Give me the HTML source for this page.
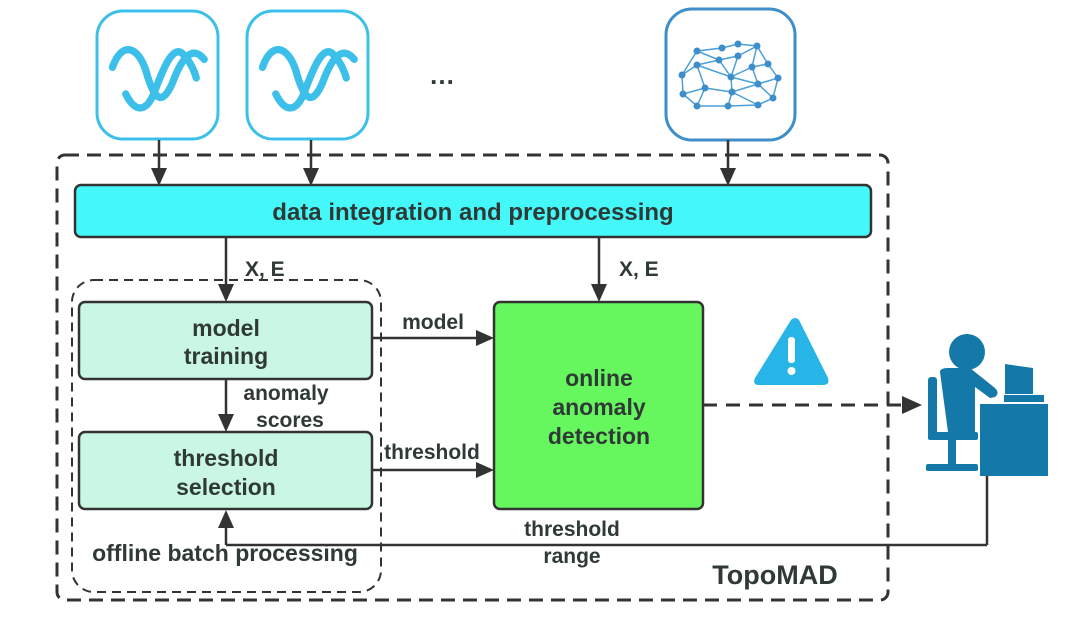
<!DOCTYPE html>
<html><head><meta charset="utf-8"><style>
html,body{margin:0;padding:0;background:#fff;}
svg{display:block;}
text{font-family:"Liberation Sans","DejaVu Sans",sans-serif;font-weight:bold;fill:#2f3a36;}
</style></head><body>
<svg width="1080" height="621" viewBox="0 0 1080 621" xmlns="http://www.w3.org/2000/svg">
<!-- icon boxes -->
<rect x="97" y="11" width="121" height="128" rx="26" fill="#fff" stroke="#3cc0ea" stroke-width="3"/>
<rect x="247" y="11" width="121" height="128" rx="26" fill="#fff" stroke="#3cc0ea" stroke-width="3"/>
<rect x="666" y="9" width="129" height="131" rx="26" fill="#fff" stroke="#3d8ec9" stroke-width="3"/>
<!-- wave icons -->
<g fill="none" stroke="#3cc0ea" stroke-width="5.5" stroke-linecap="round">
<path transform="translate(159,78) scale(1.33) translate(-150,-76)" d="M115 68 C122 48 134 52 140 70 C146 92 152 98 160 80 C168 58 176 52 184 62 M125 88 C132 102 140 102 146 88 C152 72 160 50 168 58 C174 64 177 72 178 76"/>
<path transform="translate(309,78) scale(1.33) translate(-300,-76)" d="M265 68 C272 48 284 52 290 70 C296 92 302 98 310 80 C318 58 326 52 334 62 M275 88 C282 102 290 102 296 88 C302 72 310 50 318 58 C324 64 327 72 328 76"/>
</g>
<text x="442" y="84" font-size="26" text-anchor="middle">…</text>
<!-- network cloud -->
<g stroke="#4aa0d8" stroke-width="1.5" fill="none">
<path d="M682 75 L697 51 L722 48 L738 44 L757 46 L768 64 L778 78 L773 98 L758 105 L728 106 L697 106 L683 94 Z M697 51 L719 60 L738 56 L757 46 M719 60 L697 65 L682 75 M697 65 L705 88 L683 94 M697 65 L731 77 L719 60 M738 56 L731 77 L752 67 L757 46 M752 67 L768 64 M752 67 L758 84 L731 77 L732 92 L705 88 M758 84 L778 78 M758 84 L773 98 M758 84 L732 92 L728 106 M705 88 L697 106 M732 92 L758 105"/>
</g>
<g fill="#3d8ec9">
<circle cx="682" cy="75" r="3.5"/><circle cx="697" cy="51" r="3.5"/><circle cx="722" cy="48" r="3.5"/><circle cx="738" cy="44" r="3.5"/><circle cx="757" cy="46" r="3.5"/><circle cx="768" cy="64" r="3.5"/><circle cx="778" cy="78" r="3.5"/><circle cx="773" cy="98" r="3.5"/><circle cx="758" cy="105" r="3.5"/><circle cx="728" cy="106" r="3.5"/><circle cx="697" cy="106" r="3.5"/><circle cx="683" cy="94" r="3.5"/><circle cx="719" cy="60" r="3.5"/><circle cx="738" cy="56" r="3.5"/><circle cx="697" cy="65" r="3.5"/><circle cx="731" cy="77" r="3.5"/><circle cx="752" cy="67" r="3.5"/><circle cx="758" cy="84" r="3.5"/><circle cx="705" cy="88" r="3.5"/><circle cx="732" cy="92" r="3.5"/>
</g>
<!-- outer dashed -->
<rect x="57" y="155" width="831" height="445" rx="8" fill="none" stroke="#333" stroke-width="3" stroke-dasharray="14 8"/>
<!-- inner dashed -->
<rect x="72" y="280" width="309" height="312" rx="22" fill="none" stroke="#333" stroke-width="2" stroke-dasharray="9 6"/>
<g stroke="#333" stroke-width="2.5">
<line x1="159" y1="140" x2="159" y2="170"/><line x1="311" y1="140" x2="311" y2="170"/><line x1="728" y1="140" x2="728" y2="170"/>
<line x1="226" y1="238" x2="226" y2="286"/><line x1="599" y1="238" x2="599" y2="286"/>
<line x1="226" y1="380" x2="226" y2="416"/>
<line x1="372" y1="338" x2="478" y2="338"/><line x1="372" y1="470" x2="478" y2="470"/>
<line x1="987" y1="476" x2="987" y2="545"/><line x1="987" y1="545" x2="226" y2="545"/><line x1="226" y1="545" x2="226" y2="526"/>
</g>
<line x1="703" y1="405" x2="905" y2="405" stroke="#333" stroke-width="3" stroke-dasharray="14 9"/>
<g fill="#333">
<path d="M151 168 L167 168 L159 186 Z"/><path d="M303 168 L319 168 L311 186 Z"/><path d="M720 168 L736 168 L728 186 Z"/>
<path d="M218 284 L234 284 L226 302 Z"/><path d="M591 284 L607 284 L599 302 Z"/>
<path d="M218 414 L234 414 L226 432 Z"/>
<path d="M476 330 L476 346 L494 338 Z"/><path d="M476 462 L476 478 L494 470 Z"/>
<path d="M218 528 L234 528 L226 510 Z"/>
<path d="M902 396 L902 414 L922 405 Z"/>
</g>
<!-- bar -->
<rect x="75" y="185" width="796" height="52" rx="6" fill="#44f8fa" stroke="#333" stroke-width="2.5"/>
<text x="473" y="220" font-size="24" text-anchor="middle">data integration and preprocessing</text>
<text x="245" y="276" font-size="21">X, E</text>
<text x="619" y="276" font-size="21">X, E</text>
<!-- boxes -->
<rect x="79" y="302" width="293" height="77" rx="6" fill="#c9f7e4" stroke="#333" stroke-width="2.5"/>
<text x="226" y="336" font-size="23" text-anchor="middle">model</text>
<text x="226" y="364" font-size="23" text-anchor="middle">training</text>
<rect x="79" y="432" width="293" height="77" rx="6" fill="#c9f7e4" stroke="#333" stroke-width="2.5"/>
<text x="226" y="466" font-size="23" text-anchor="middle">threshold</text>
<text x="226" y="495" font-size="23" text-anchor="middle">selection</text>
<text x="286" y="400" font-size="21" text-anchor="middle">anomaly</text>
<text x="290" y="427" font-size="21" text-anchor="middle">scores</text>
<text x="433" y="329" font-size="21" text-anchor="middle">model</text>
<text x="432" y="459" font-size="21" text-anchor="middle">threshold</text>
<rect x="494" y="302" width="209" height="207" rx="6" fill="#66f65e" stroke="#333" stroke-width="2.5"/>
<text x="599" y="386" font-size="23" text-anchor="middle">online</text>
<text x="599" y="415" font-size="23" text-anchor="middle">anomaly</text>
<text x="599" y="444" font-size="23" text-anchor="middle">detection</text>
<text x="572" y="536" font-size="21" text-anchor="middle">threshold</text>
<text x="572" y="563" font-size="21" text-anchor="middle">range</text>
<text x="225" y="561" font-size="23" text-anchor="middle">offline batch processing</text>
<text x="775" y="584" font-size="27" text-anchor="middle">TopoMAD</text>
<!-- warning -->
<path d="M791 320 Q795 316 799 320 L828 378 Q830 385 823 385 L759 385 Q752 385 755 378 Z" fill="#27b5e8"/>
<rect x="788" y="337" width="7" height="26" rx="3" fill="#fff"/>
<circle cx="791.5" cy="371" r="4" fill="#fff"/>
<!-- person -->
<g fill="#1479a8">
<circle cx="967" cy="352" r="18"/>
<path d="M940 372 Q940 368 948 368 L970 368 L995 388 Q1000 393 995 397 L990 398 L975 387 L975 432 L948 432 Z"/>
<rect x="928" y="377" width="9" height="60" rx="3"/>
<rect x="928" y="432" width="50" height="8" rx="2"/>
<rect x="948" y="440" width="8" height="24"/>
<rect x="926" y="464" width="52" height="7" rx="2"/>
<rect x="980" y="404" width="68" height="72"/>
<path d="M1005 364 L1033 368 L1033 394 L1005 394 Z"/>
<rect x="1004" y="395" width="40" height="7"/>
</g>
</svg>
</body></html>
